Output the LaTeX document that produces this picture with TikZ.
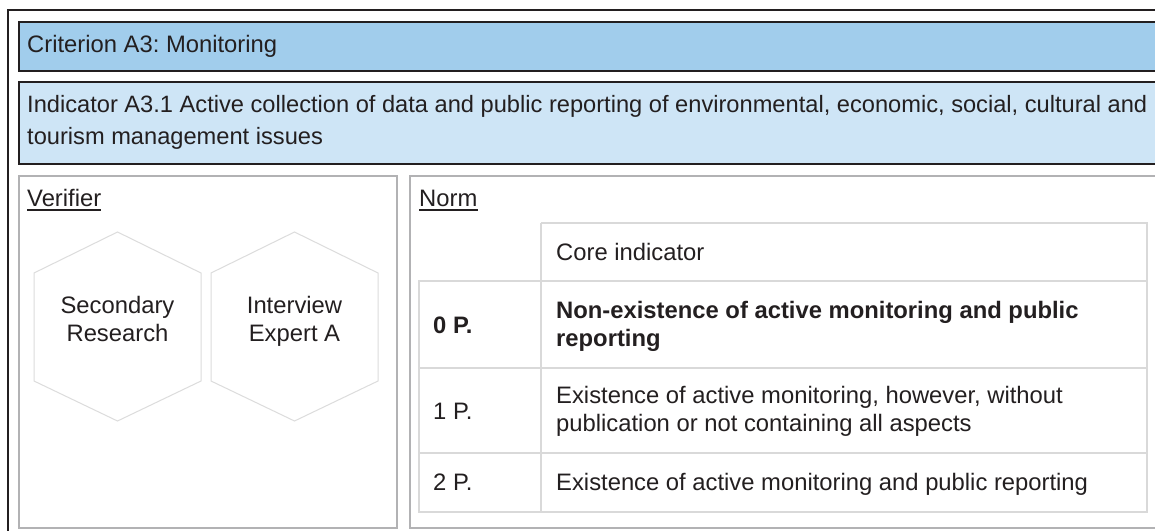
\documentclass[tikz,border=0pt]{standalone}
\usepackage{fontspec}
\setmainfont{Liberation Sans}
\definecolor{ink}{HTML}{231F20}
\definecolor{critblue}{HTML}{A1CDEC}
\definecolor{indblue}{HTML}{CEE5F6}
\definecolor{boxgray}{HTML}{B2B2B4}
\definecolor{cellgray}{HTML}{D9D9D9}
\definecolor{hexgray}{HTML}{DCDCDC}
\frenchspacing
\begin{document}
\begin{tikzpicture}[x=1pt,y=-1pt,
  font=\fontsize{23.8}{28}\selectfont,
  frame/.style={draw=ink,line width=2pt},
  bluebox/.style={draw=ink,line width=1.8pt,anchor=north west,inner sep=0pt},
  graybox/.style={draw=boxgray,line width=1.5pt,anchor=north west,inner sep=0pt},
  cell/.style={draw=cellgray,line width=1.3pt},
  hexa/.style={draw=hexgray,line width=1pt},
  txt/.style={anchor=base west,inner sep=0pt,text=ink},
  ctxt/.style={anchor=base,inner sep=0pt,text=ink},
  uline/.style={draw=ink,line width=1.4pt}]
\useasboundingbox (0,0) rectangle (1155,530);
\clip (0,0) rectangle (1155,530);
\fill[white] (0,0) rectangle (1155,530);
% outer frame
\node[frame,anchor=north west,inner sep=0pt,minimum width=1170pt,minimum height=545pt] (outer) at (7,9) {};
% criterion
\node[bluebox,fill=critblue,minimum width=1160pt,minimum height=49pt] (crit) at (18,21) {};
\node[txt] (crittxt) at (27,52) {Criterion A3: Monitoring};
% indicator
\node[bluebox,fill=indblue,minimum width=1160pt,minimum height=82pt] (ind) at (18,81) {};
\node[txt,font=\fontsize{23.65}{28}\selectfont] (indA) at (27,112) {Indicator A3.1 Active collection of data and public reporting of environmental, economic, social, cultural and};
\node[txt,font=\fontsize{23.65}{28}\selectfont] (indB) at (27,144) {tourism management issues};
% verifier box
\node[graybox,minimum width=378pt,minimum height=352pt] (verbox) at (18,175) {};
\node[txt] (verif) at (27,206) {Verifier};
\draw[uline] ([yshift=-4pt]verif.base west) -- ([yshift=-4pt]verif.base east);
% hexagons
\draw[hexa] (34,273) -- (117.5,232) -- (201,273) -- (201,381) -- (117.5,421) -- (34,381) -- cycle;
\draw[hexa] (211,273) -- (294.5,232) -- (378,273) -- (378,381) -- (294.5,421) -- (211,381) -- cycle;
\node[ctxt] (h1a) at (117.5,313) {Secondary};
\node[ctxt] (h1b) at (117.5,341) {Research};
\node[ctxt] (h2a) at (294.5,313) {Interview};
\node[ctxt] (h2b) at (294.5,341) {Expert A};
% norm box
\node[graybox,minimum width=760pt,minimum height=352pt] (normbox) at (409,175) {};
\node[txt] (norm) at (419,206) {Norm};
\draw[uline] ([yshift=-4pt]norm.base west) -- ([yshift=-4pt]norm.base east);
% table
\draw[cell] (541,223) -- (1147,223) -- (1147,512) -- (419,512) -- (419,281) -- (1147,281);
\draw[cell] (541,223) -- (541,512);
\draw[cell] (419,368) -- (1147,368);
\draw[cell] (419,453) -- (1147,453);
\node[txt] (core) at (556,260) {Core indicator};
\node[txt,font=\fontsize{23.8}{28}\selectfont\bfseries] (p0) at (433,333) {0 P.};
\node[txt,font=\fontsize{23.8}{28}\selectfont\bfseries] (n0a) at (556,318) {Non-existence of active monitoring and public};
\node[txt,font=\fontsize{23.8}{28}\selectfont\bfseries] (n0b) at (556,346) {reporting};
\node[txt] (p1) at (433,419) {1 P.};
\node[txt] (n1a) at (556,403) {Existence of active monitoring, however, without};
\node[txt] (n1b) at (556,431) {publication or not containing all aspects};
\node[txt] (p2) at (433,490) {2 P.};
\node[txt] (n2) at (556,490) {Existence of active monitoring and public reporting};
\end{tikzpicture}
\end{document}
